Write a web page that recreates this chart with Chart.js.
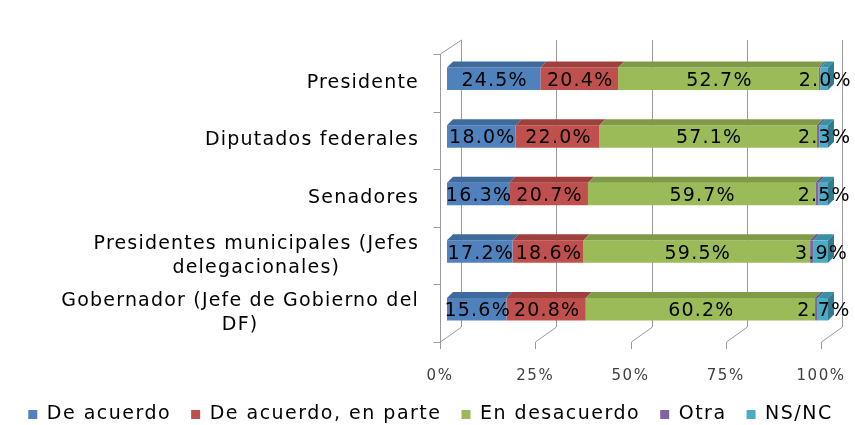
<!DOCTYPE html>
<html>
<head>
<meta charset="utf-8">
<script src="https://cdn.jsdelivr.net/npm/chart.js@4.4.1/dist/chart.umd.min.js"></script>
<style>
  html, body { margin: 0; background: #fff; }
  #wrap { width: 855px; height: 425px; }
</style>
</head>
<body>
<div id="wrap"><canvas id="grafica"></canvas></div>
<script>
var categorias = [
  ["Presidente"],
  ["Diputados federales"],
  ["Senadores"],
  ["Presidentes municipales (Jefes", "delegacionales)"],
  ["Gobernador (Jefe de Gobierno del", "DF)"]
];
var deAcuerdo = [24.5, 18.0, 16.3, 17.2, 15.6];
var enParte = [20.4, 22.0, 20.7, 18.6, 20.8];
var desacuerdo = [52.7, 57.1, 59.7, 59.5, 60.2];
var otra = [0.4, 0.6, 0.8, 0.8, 0.7];
var nsnc = [2.0, 2.3, 2.5, 3.9, 2.7];
var ticksX = [0, 25, 50, 75, 100];

var fuente = "'DejaVu Sans', Verdana, sans-serif";
// colores: frente, cara superior
var colores = ["#4F81BD", "#C0504D", "#9BBB59", "#8064A2", "#4BACC6"];
var arriba = ["#3F6A9C", "#9E403D", "#7F9B47", "#68528A", "#3A8EA6"];

// paredes, caras 3d, etiquetas
var caja3d = {
  id: "caja3d",
  beforeUpdate: function(chart) { chart.ctx.letterSpacing = "1.5px"; },
  beforeDraw: function(chart) { chart.ctx.letterSpacing = "1.5px"; },
  beforeDatasetsDraw: function(chart) {
    var ctx = chart.ctx, a = chart.chartArea, sx = chart.scales.x;
    function linea(x1, y1, x2, y2) {
      ctx.beginPath(); ctx.moveTo(x1, y1); ctx.lineTo(x2, y2); ctx.stroke();
    }
    ctx.save();
    ctx.strokeStyle = "#9a9a9a";
    ctx.lineWidth = 1;
    var fTop = a.top + 4, fBot = a.bottom + 4, bTop = a.top - 10, bBot = a.bottom - 11;
    ticksX.forEach(function(t) {
      var px = Math.round(sx.getPixelForValue(t)) + 0.5;
      linea(px + 14, bTop, px + 14, bBot);
      linea(px - 7, fBot, px + 14, bBot);
      linea(px - 7, fBot, px - 7, fBot + 7);
    });
    var x0 = Math.round(a.left) - 6.5;
    linea(x0, fTop, x0, fBot);
    linea(x0, fTop, x0 + 21, bTop);
    for (var k = 0; k <= 5; k++) {
      var y = Math.round(fTop + k * (a.bottom - a.top) / 5) + 0.5;
      linea(x0 - 7, y, x0, y);
    }
    // etiquetas de categorias
    ctx.fillStyle = "#000";
    ctx.font = "19px " + fuente;
    ctx.textAlign = "center";
    ctx.textBaseline = "middle";
    ctx.letterSpacing = "1.2px";
    var sy = chart.scales.y;
    chart.data.labels.forEach(function(lab, i) {
      var cy = sy.getPixelForValue(i) + 4;
      var ancho = 0;
      lab.forEach(function(l) { ancho = Math.max(ancho, ctx.measureText(l).width); });
      var cx = 419 - ancho / 2;
      lab.forEach(function(l, j) {
        ctx.fillText(l, cx, cy + (j - (lab.length - 1) / 2) * 24);
      });
    });
    ctx.restore();
  },
  afterDatasetsDraw: function(chart) {
    var ctx = chart.ctx;
    var dx = 6, dy = 6;
    ctx.save();
    chart.data.datasets.forEach(function(ds, d) {
      chart.getDatasetMeta(d).data.forEach(function(bar) {
        var p = bar.getProps(["x", "y", "base", "height"], true);
        var top = p.y - p.height / 2, bot = p.y + p.height / 2;
        ctx.fillStyle = arriba[d];
        ctx.beginPath();
        ctx.moveTo(p.base, top); ctx.lineTo(p.base + dx, top - dy);
        ctx.lineTo(p.x + dx, top - dy); ctx.lineTo(p.x, top);
        ctx.closePath(); ctx.fill();
        if (d === chart.data.datasets.length - 1) {
          ctx.fillStyle = "#317A8F";
          ctx.beginPath();
          ctx.moveTo(p.x, top); ctx.lineTo(p.x + dx, top - dy);
          ctx.lineTo(p.x + dx, bot - dy); ctx.lineTo(p.x, bot);
          ctx.closePath(); ctx.fill();
        }
      });
    });
    // valores
    ctx.fillStyle = "#000";
    ctx.font = "19px " + fuente;
    ctx.textAlign = "center";
    ctx.textBaseline = "middle";
    ctx.letterSpacing = "1.2px";
    chart.data.datasets.forEach(function(ds, d) {
      if (ds.label === "Otra") return;
      chart.getDatasetMeta(d).data.forEach(function(bar, i) {
        var p = bar.getProps(["x", "y", "base"], true);
        ctx.fillText(ds.data[i].toFixed(1) + "%", (p.x + p.base) / 2 + 1, p.y + 2);
      });
    });
    ctx.restore();
  }
};

function serie(nombre, datos, i) {
  return {
    label: nombre,
    data: datos,
    backgroundColor: colores[i],
    borderWidth: 0,
    barPercentage: 0.39,
    categoryPercentage: 1
  };
}

new Chart(document.getElementById("grafica").getContext("2d"), {
  type: "bar",
  data: {
    labels: categorias,
    datasets: [
      serie("De acuerdo", deAcuerdo, 0),
      serie("De acuerdo, en parte", enParte, 1),
      serie("En desacuerdo", desacuerdo, 2),
      serie("Otra", otra, 3),
      serie("NS/NC", nsnc, 4)
    ]
  },
  options: {
    indexAxis: "y",
    responsive: true,
    maintainAspectRatio: false,
    animation: false,
    layout: { autoPadding: false, padding: { left: 6, right: 0, top: 50, bottom: -9 } },
    scales: {
      x: {
        stacked: true,
        min: 0,
        max: 100,
        grid: { display: false, drawTicks: false },
        border: { display: false },
        afterBuildTicks: function(s) { s.ticks = ticksX.map(function(v) { return { value: v }; }); },
        afterFit: function(s) { s.height = 47; s.paddingLeft = 0; s.paddingRight = 0; },
        ticks: {
          padding: 29,
          labelOffset: -7,
          color: "#404040",
          font: { family: fuente, size: 15 },
          callback: function(v) { return v + "%"; }
        }
      },
      y: {
        stacked: true,
        display: true,
        grid: { display: false, drawTicks: false },
        border: { display: false },
        ticks: { display: false },
        afterFit: function(s) { s.width = 441; }
      },
      derecha: {
        type: "linear",
        axis: "y",
        position: "right",
        display: true,
        grid: { display: false, drawTicks: false },
        border: { display: false },
        ticks: { display: false },
        afterFit: function(s) { s.width = 27; }
      }
    },
    plugins: {
      legend: {
        position: "bottom",
        labels: {
          boxWidth: 9,
          boxHeight: 9,
          padding: 20,
          color: "#000",
          font: { family: fuente, size: 19 }
        }
      },
      tooltip: { enabled: false }
    }
  },
  plugins: [caja3d]
});
</script>
</body>
</html>
